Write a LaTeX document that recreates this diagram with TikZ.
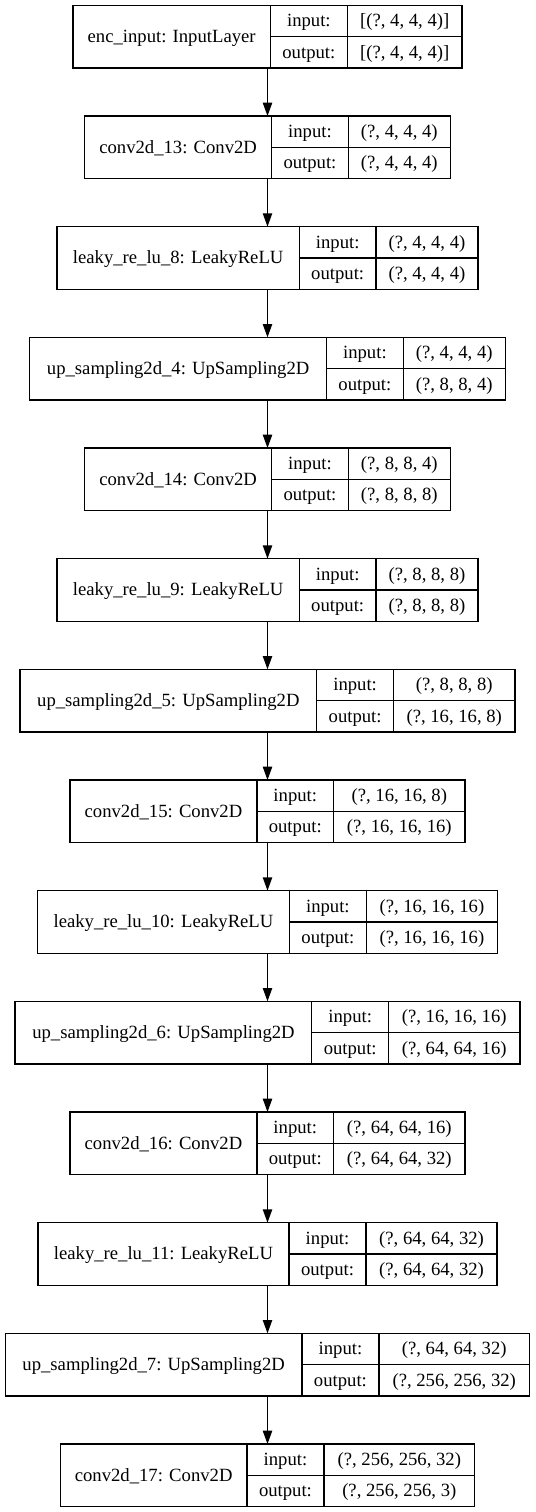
\documentclass[tikz,border=0pt]{standalone}
\usepackage{fontspec}
\setmainfont{Liberation Serif}
\usetikzlibrary{arrows.meta}
\newcommand\ff{\fontsize{14pt}{16pt}\selectfont}
\newlength\wLab \newlength\wIO \newlength\wIn \newlength\wOut
\newcommand\measure[3]{%
  \pgfinterruptpicture
    \setbox0\hbox{\ff #1}\global\wLab=\wd0
    \setbox0\hbox{\ff output:}\global\wIO=\wd0
    \setbox0\hbox{\ff #2}\global\wIn=\wd0
    \setbox0\hbox{\ff #3}\global\wOut=\wd0
  \endpgfinterruptpicture
  \ifdim\wOut>\wIn \wIn=\wOut\fi}
\tikzset{
  cell/.style={rectangle, inner sep=0pt, outer sep=0pt,
    anchor=north west, text height=9.6pt, text depth=1pt, font=\ff},
  outerbox/.style={rectangle, inner sep=0pt, outer sep=0pt, anchor=north west, minimum height=47pt},
  grid/.style={draw=black, line width=1pt},
  arr/.style={line width=1pt, -{Triangle[length=10pt,width=7pt]}}
}
\newcommand\kbox[5]{%
  \measure{#3}{#4}{#5}%
  \pgfmathsetmacro\kA{\kk*\wLab+16}%
  \pgfmathsetmacro\kB{\kk*\wIO+16}%
  \pgfmathsetmacro\kC{\kk*\wIn+16}%
  \pgfmathsetmacro\kT{\kA+\kB+\kC}%
  \pgfmathsetmacro\kLeft{200.625-\kT/2}%
  \pgfmathsetmacro\kDa{\kLeft+\kA}%
  \pgfmathsetmacro\kDb{\kDa+\kB}%
  \pgfmathsetmacro\kTop{-(4+83*#2)}%
  \pgfmathsetmacro\kMid{\kTop-23.5}%
  \node[outerbox, minimum width=\kT pt] (#1) at (\kLeft pt,\kTop pt) {};
  \node[cell, minimum width=\kA pt, minimum height=47pt] (#1-lab) at (\kLeft pt,\kTop pt) {#3};
  \node[cell, minimum width=\kB pt, minimum height=23.5pt] (#1-inl) at (\kDa pt,\kTop pt) {input:};
  \node[cell, minimum width=\kB pt, minimum height=23.5pt] (#1-outl) at (\kDa pt,\kMid pt) {output:};
  \node[cell, minimum width=\kC pt, minimum height=23.5pt] (#1-ins) at (\kDb pt,\kTop pt) {#4};
  \node[cell, minimum width=\kC pt, minimum height=23.5pt] (#1-outs) at (\kDb pt,\kMid pt) {#5};
  \draw[grid] (#1.north west) rectangle (#1.south east)
    (#1-lab.north east) -- (#1-lab.south east)
    (#1-ins.north west) -- (#1-outs.south west)
    (#1-inl.south west) -- (#1-ins.south east);
}
\begin{document}
\begin{tikzpicture}
\useasboundingbox (0,0) rectangle (401.25pt,-1134pt);
\measure{up\_sampling2d\_7: UpSampling2D}{(?, 64, 64, 32)}{(?, 256, 256, 32)}
\pgfmathsetmacro\kk{(393.25-48)/(\wLab+\wIO+\wIn)}
\kbox{b0}{0}{enc\_input: InputLayer}{[(?, 4, 4, 4)]}{[(?, 4, 4, 4)]}
\kbox{b1}{1}{conv2d\_13: Conv2D}{(?, 4, 4, 4)}{(?, 4, 4, 4)}
\kbox{b2}{2}{leaky\_re\_lu\_8: LeakyReLU}{(?, 4, 4, 4)}{(?, 4, 4, 4)}
\kbox{b3}{3}{up\_sampling2d\_4: UpSampling2D}{(?, 4, 4, 4)}{(?, 8, 8, 4)}
\kbox{b4}{4}{conv2d\_14: Conv2D}{(?, 8, 8, 4)}{(?, 8, 8, 8)}
\kbox{b5}{5}{leaky\_re\_lu\_9: LeakyReLU}{(?, 8, 8, 8)}{(?, 8, 8, 8)}
\kbox{b6}{6}{up\_sampling2d\_5: UpSampling2D}{(?, 8, 8, 8)}{(?, 16, 16, 8)}
\kbox{b7}{7}{conv2d\_15: Conv2D}{(?, 16, 16, 8)}{(?, 16, 16, 16)}
\kbox{b8}{8}{leaky\_re\_lu\_10: LeakyReLU}{(?, 16, 16, 16)}{(?, 16, 16, 16)}
\kbox{b9}{9}{up\_sampling2d\_6: UpSampling2D}{(?, 16, 16, 16)}{(?, 64, 64, 16)}
\kbox{b10}{10}{conv2d\_16: Conv2D}{(?, 64, 64, 16)}{(?, 64, 64, 32)}
\kbox{b11}{11}{leaky\_re\_lu\_11: LeakyReLU}{(?, 64, 64, 32)}{(?, 64, 64, 32)}
\kbox{b12}{12}{up\_sampling2d\_7: UpSampling2D}{(?, 64, 64, 32)}{(?, 256, 256, 32)}
\kbox{b13}{13}{conv2d\_17: Conv2D}{(?, 256, 256, 32)}{(?, 256, 256, 3)}
\foreach \i [evaluate=\i as \j using int(\i+1)] in {0,...,12}
  \draw[arr] (b\i.south) -- (b\j.north);
\end{tikzpicture}
\end{document}
